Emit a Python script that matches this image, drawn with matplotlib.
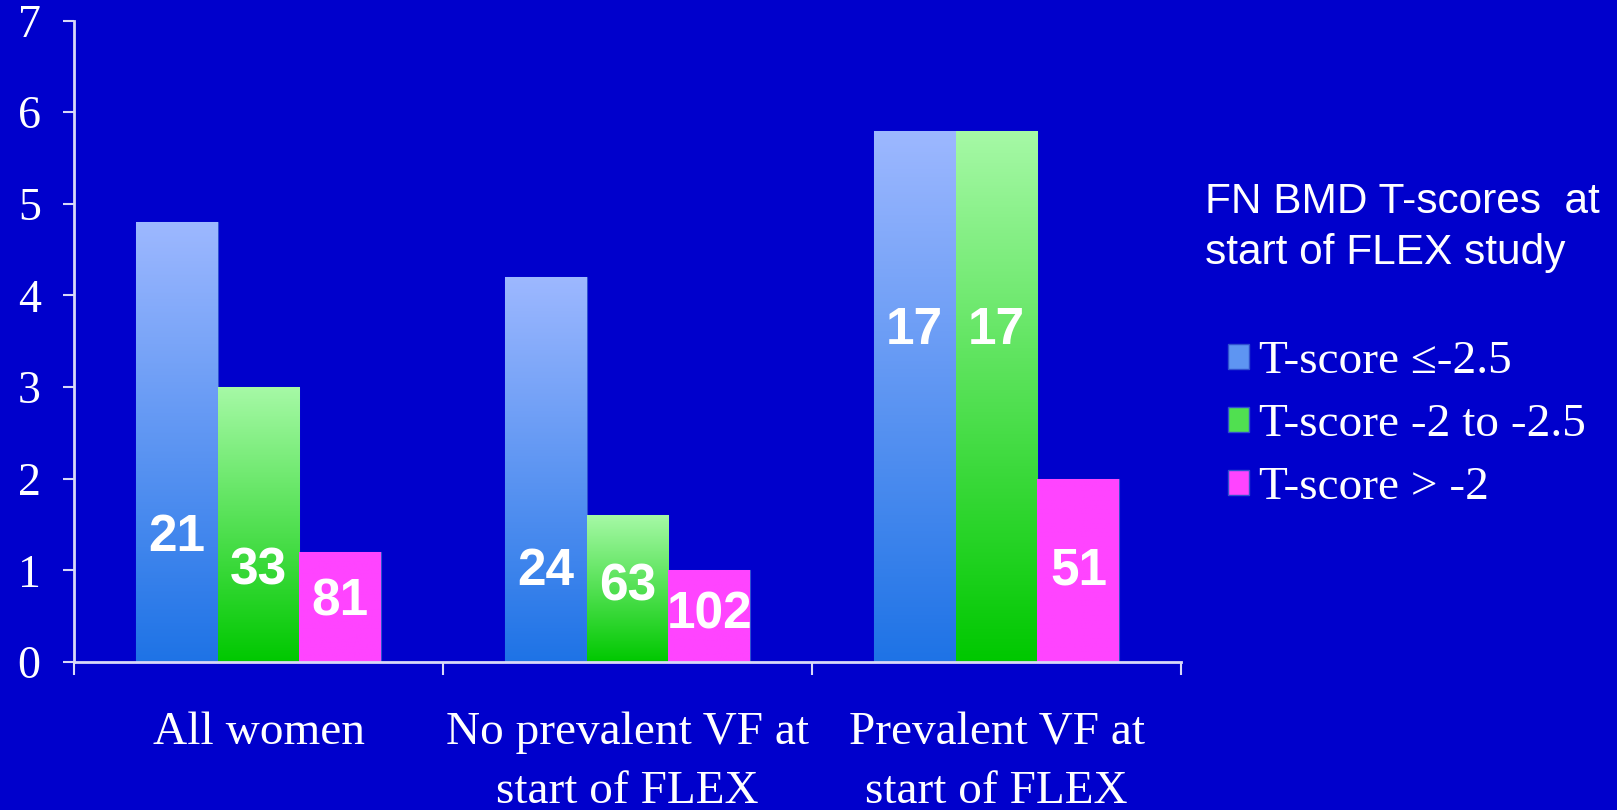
import numpy as np
import matplotlib
matplotlib.use('Agg')
import matplotlib.pyplot as plt
from matplotlib.colors import LinearSegmentedColormap
from matplotlib.patches import Patch

# data
categories = ['All women', 'No prevalent VF at\nstart of FLEX', 'Prevalent VF at\nstart of FLEX']
series = ['T-score ≤-2.5', 'T-score -2 to -2.5', 'T-score > -2']
values = [
    [4.8, 4.2, 5.8],   # T <= -2.5
    [3.0, 1.6, 5.8],   # -2 to -2.5
    [1.2, 1.0, 2.0],   # > -2
]
counts = [
    [21, 24, 17],
    [33, 63, 17],
    [81, 102, 51],
]
# height at which the count sits inside each bar
count_y = [
    [1.36, 0.99, 3.62],
    [0.99, 0.82, 3.62],
    [0.65, 0.51, 0.99],
]

BG = '#0000CC'
AXCOL = '#D8D8F8'
grads = [('#9DB8FF', '#1E73E6'), ('#A6F9A6', '#00C800'), ('#FF44FF', '#FF44FF')]
legend_cols = ['#5E95F2', '#50E050', '#FF44FF']
serif = ['Liberation Serif', 'DejaVu Serif']
sans = ['Liberation Sans', 'DejaVu Sans']

fig = plt.figure(figsize=(16.17, 8.10), dpi=100, facecolor=BG)
ax = fig.add_axes([74 / 1617, 1 - 662 / 810, (1181 - 74) / 1617, (662 - 20.6) / 810])
ax.set_facecolor(BG)

x = np.arange(len(categories))
w = 0.222
for i in range(3):
    bars = ax.bar(x + (i - 1) * w, values[i], width=w, color=grads[i][1],
                  edgecolor='#3050D0', linewidth=0.8, zorder=2)
    top, bot = grads[i]
    cmap = LinearSegmentedColormap.from_list('g%d' % i, [bot, top])
    grad = np.linspace(0, 1, 256).reshape(-1, 1)
    for b in bars:
        x0, y0 = b.get_x(), b.get_y()
        im = ax.imshow(grad, extent=[x0, x0 + b.get_width(), y0, y0 + b.get_height()],
                       origin='lower', aspect='auto', cmap=cmap, zorder=2.5)
        im.set_clip_path(b)
    for j, b in enumerate(bars):
        ax.text(b.get_x() + b.get_width() / 2, count_y[i][j], str(counts[i][j]),
                ha='center', va='center', color='white', fontsize=37,
                fontweight='bold', family=sans, zorder=4)

ax.set_xlim(-0.5, 2.5)
ax.set_ylim(0, 7)

for s in ['top', 'right']:
    ax.spines[s].set_visible(False)
for s in ['left', 'bottom']:
    ax.spines[s].set_color(AXCOL)
    ax.spines[s].set_linewidth(2)
    ax.spines[s].set_zorder(5)

ax.set_yticks(range(8))
ax.set_yticklabels([str(v) for v in range(8)], family=serif, fontsize=33, color='white')
ax.tick_params(axis='y', direction='out', length=8, width=1.5, color=AXCOL, pad=16)

ax.set_xticks([-0.5, 0.5, 1.5, 2.5])
ax.set_xticklabels([])
ax.tick_params(axis='x', which='major', direction='out', length=9, width=1.5, color=AXCOL)
ax.set_xticks(x, minor=True)
ax.set_xticklabels(categories, minor=True, family=serif, fontsize=34, color='white',
                   linespacing=1.48, va='top')
ax.tick_params(axis='x', which='minor', length=0, pad=36)

fig.text(1205 / 1617, 1 - 182 / 810, 'FN BMD T-scores  at\nstart of FLEX study',
         ha='left', va='top', family=sans, fontsize=30.5, color='white', linespacing=1.36)

handles = [Patch(facecolor=c, edgecolor='#3050D0') for c in legend_cols]
leg = fig.legend(handles, series, loc='upper left', bbox_to_anchor=(1228 / 1617, 1 - 341 / 810),
                 frameon=False, borderpad=0, borderaxespad=0, handlelength=0.45,
                 handleheight=0.45, handletextpad=0.2, labelspacing=0.43,
                 prop={'family': serif, 'size': 34})
for t in leg.get_texts():
    t.set_color('white')

fig.savefig('out.png', dpi=100, facecolor=BG)
